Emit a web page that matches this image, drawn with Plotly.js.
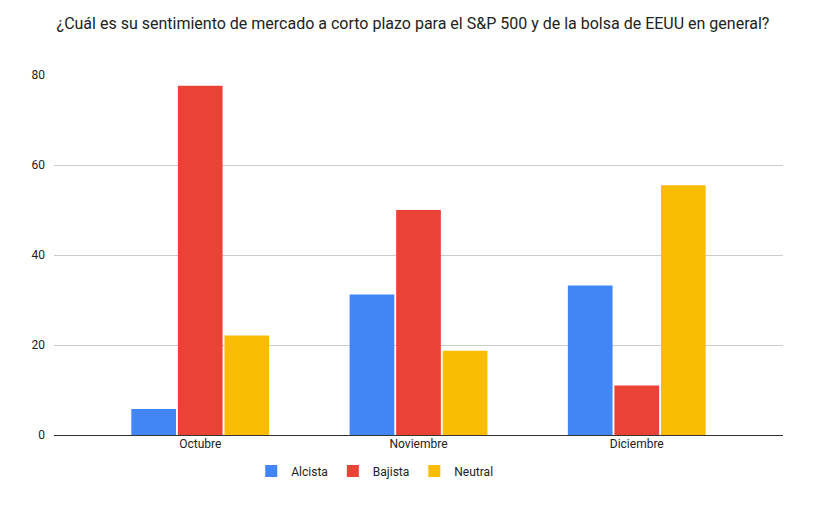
<!DOCTYPE html>
<html>
<head>
<meta charset="utf-8">
<script src="https://cdn.plot.ly/plotly-3.0.1.min.js"></script>
<style>html,body{margin:0;padding:0;background:#fff;}#chart{width:836px;height:514px;}</style>
</head>
<body>
<div id="chart"></div>
<script>
const categories = ["Octubre", "Noviembre", "Diciembre"];
const alcista = [5.8, 31.2, 33.2];
const bajista = [77.6, 50, 11];
const neutral = [22.1, 18.7, 55.5];
const seriesNames = ["Alcista", "Bajista", "Neutral"];
const colors = ["#4285F4", "#EA4335", "#FBBC04"];

const data = [alcista, bajista, neutral].map((vals, i) => ({
  type: "bar",
  name: seriesNames[i],
  x: categories,
  y: vals,
  marker: {color: colors[i], line: {width: 0}},
  hoverinfo: "x+y+name"
}));

const layout = {
  width: 836, height: 514,
  margin: {l: 54, r: 53, t: 75, b: 79},
  paper_bgcolor: "#fff", plot_bgcolor: "#fff",
  font: {family: "Roboto, Arial, sans-serif", size: 12, color: "#222"},
  title: {text: "¿Cuál es su sentimiento de mercado a corto plazo para el S&P 500 y de la bolsa de EEUU en general?",
          font: {family: "Roboto, Arial, sans-serif", size: 16, color: "#222"},
          x: 0.494, xanchor: "center", y: 0.955, yanchor: "middle"},
  barmode: "group",
  bargap: 0.36,
  bargroupgap: 0.04,
  xaxis: {range: [-0.67, 2.67], showgrid: false, showline: false, zeroline: false,
          ticks: "", tickfont: {size: 12, color: "#222"}, fixedrange: true},
  yaxis: {range: [0, 80], tickvals: [0, 20, 40, 60, 80], ticktext: ["0", "20", "40", "60", "80"],
          showgrid: true, gridcolor: "#cccccc", gridwidth: 1, zeroline: true, zerolinecolor: "#333", zerolinewidth: 1,
          showline: false, ticks: "", ticklabelstandoff: 8, tickfont: {size: 12, color: "#222"}, fixedrange: true},
  showlegend: true,
  legend: {orientation: "h", x: 0.44, xanchor: "center", y: -0.1, yanchor: "middle",
           font: {size: 12, color: "#222"}, itemwidth: 30, traceorder: "normal"}
};

Plotly.newPlot("chart", data, layout, {displayModeBar: false, staticPlot: true});
</script>
</body>
</html>
